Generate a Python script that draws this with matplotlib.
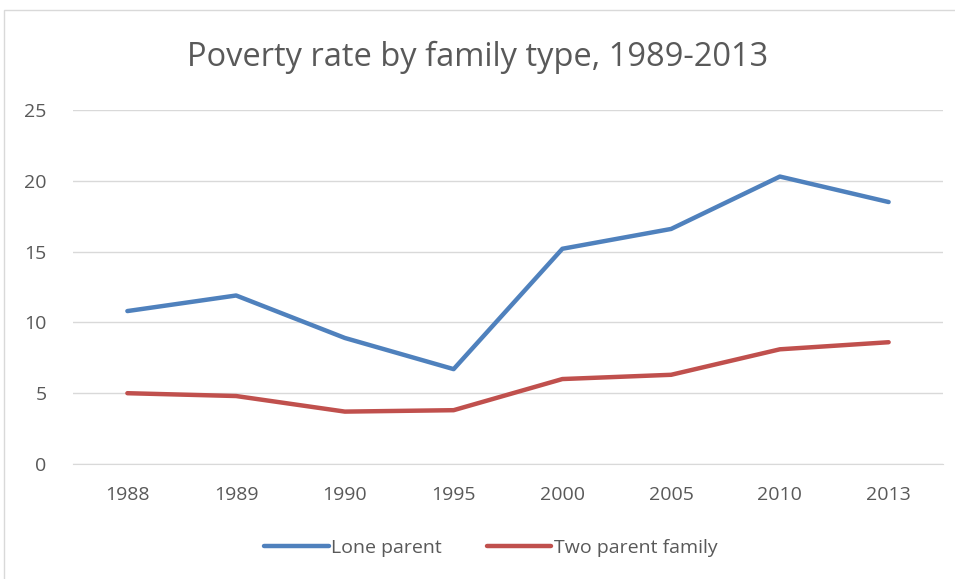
import matplotlib.pyplot as plt
from matplotlib.patches import Rectangle

years = ['1988', '1989', '1990', '1995', '2000', '2005', '2010', '2013']
lone_parent = [10.8, 11.9, 8.9, 6.7, 15.2, 16.6, 20.3, 18.5]
two_parent = [5.0, 4.8, 3.7, 3.8, 6.0, 6.3, 8.1, 8.6]

plt.rcParams['font.family'] = ['Open Sans', 'DejaVu Sans']
txt = '#595959'

fig = plt.figure(figsize=(9.55, 5.79), dpi=100)
ax = fig.add_axes([73 / 955, 1 - 464 / 579, 870 / 955, (464 - 110) / 579])

x = range(len(years))
ax.plot(x, lone_parent, color='#4f81bd', lw=3.2, solid_capstyle='round', label='Lone parent')
ax.plot(x, two_parent, color='#c0504d', lw=3.2, solid_capstyle='round', label='Two parent family')

ax.set_xlim(-0.5, len(years) - 0.5)
ax.set_ylim(0, 25)
ax.set_yticks(range(0, 26, 5))
ax.set_xticks(list(x))
ax.set_xticklabels(years)
ax.grid(axis='y', color='#d9d9d9', lw=1)
ax.set_axisbelow(True)
for s in ['top', 'right', 'left']:
    ax.spines[s].set_visible(False)
ax.spines['bottom'].set_color('#d9d9d9')
ax.tick_params(axis='both', length=0, colors=txt, labelsize=14)
ax.tick_params(axis='x', pad=16)
ax.tick_params(axis='y', pad=19)

fig.text(0.5, 1 - 57 / 579, 'Poverty rate by family type, 1989-2013',
         ha='center', va='center', fontsize=23.5, color=txt)

fig.legend(loc='center', bbox_to_anchor=(491 / 955, 1 - 548 / 579), ncol=2,
           frameon=False, fontsize=14, labelcolor=txt, handlelength=3.3,
           handletextpad=0.15, columnspacing=2.3)

fig.patches.append(Rectangle((4 / 955, -0.1), 1.2, 1 - 10 / 579 + 0.1,
                             transform=fig.transFigure, fill=False,
                             edgecolor='#d9d9d9', lw=1))

fig.savefig('out.png', dpi=100)
